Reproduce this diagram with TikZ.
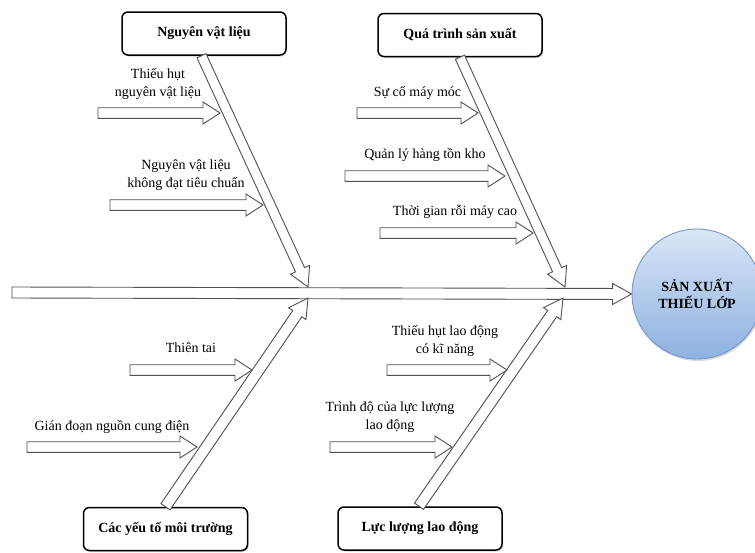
\documentclass[tikz,border=0pt]{standalone}
\usepackage{fontspec}
\setmainfont{Liberation Serif}
\usetikzlibrary{calc,shadows}
\definecolor{circtop}{HTML}{DAE6F6}
\definecolor{circbot}{HTML}{8DB1E0}
\definecolor{circedge}{HTML}{7396CB}
\definecolor{arrline}{HTML}{505050}
\tikzset{
  catbox/.style={draw=black, line width=1.5pt, rounded corners=6pt, fill=white,
    minimum width=164pt, minimum height=43pt, inner sep=0pt,
    font=\fontsize{14}{17}\selectfont\bfseries,
    drop shadow={shadow xshift=1.2pt, shadow yshift=-1.5pt, opacity=0.3}},
  lbl/.style={align=center, inner sep=0pt, font=\fontsize{14}{18}\selectfont},
  barr/.style={draw=arrline, line width=0.9pt, fill=white, line join=miter},
  effect/.style={circle, minimum size=130pt, inner sep=0pt, draw=circedge, line width=0.9pt,
    top color=circtop, bottom color=circbot, align=center,
    font=\fontsize{14}{17}\selectfont\bfseries,
    drop shadow={shadow xshift=1pt, shadow yshift=-2pt, opacity=0.3}}
}
% #1 tail, #2 tip, #3 half shaft width, #4 half head width, #5 head length
\newcommand{\blockarrow}[5]{%
  \draw[barr] ($(#1)!#3!90:(#2)$) -- ($(#2)!#5!(#1)!#3!90:(#2)$)
    -- ($(#2)!#5!(#1)!#4!90:(#2)$) -- (#2)
    -- ($(#2)!#5!(#1)!#4!-90:(#2)$) -- ($(#2)!#5!(#1)!#3!-90:(#2)$)
    -- ($(#1)!#3!-90:(#2)$) -- cycle;}
\begin{document}
\begin{tikzpicture}[x=1pt,y=-1pt]
\useasboundingbox (0,0) rectangle (755,552);

% effect
\node[effect] (eff) at (697,294) {SẢN XUẤT\\THIẾU LỚP};

% category boxes
\node[catbox] (box1) at (204,33.5) {Nguyên vật liệu};
\node[catbox] (box2) at (460,35) {Quá trình sản xuất};
\node[catbox] (box3) at (165.5,529) {Các yếu tố môi trường};
\node[catbox] (box4) at (420,528.5) {Lực lượng lao động};

% spine
\coordinate (sp0) at (12,292.5);
\blockarrow{sp0}{eff.west}{5.5pt}{10.5pt}{19pt}

% bones
\coordinate (b1s) at ([xshift=-2.5pt]box1.south);
\coordinate (b2s) at (box2.south);
\coordinate (b3s) at (box3.north);
\coordinate (b4s) at ([xshift=-1pt]box4.north);
\coordinate (j1) at (308,287);
\coordinate (j2) at (565,287);
\coordinate (j3) at (308,298);
\coordinate (j4) at (563,298);
\blockarrow{b1s}{j1}{5pt}{10.5pt}{19pt}
\blockarrow{b2s}{j2}{5pt}{10.5pt}{19pt}
\blockarrow{b3s}{j3}{5.5pt}{10.5pt}{19pt}
\blockarrow{b4s}{j4}{5.5pt}{10.5pt}{19pt}

% sub-causes
\coordinate (a1s) at (98,113);  \coordinate (a1e) at (220,113);
\coordinate (a2s) at (110,205); \coordinate (a2e) at (263,205);
\coordinate (a3s) at (357,113); \coordinate (a3e) at (478,113);
\coordinate (a4s) at (345,176); \coordinate (a4e) at (505,176);
\coordinate (a5s) at (380,233); \coordinate (a5e) at (533,233);
\coordinate (a6s) at (130,370); \coordinate (a6e) at (252,370);
\coordinate (a7s) at (27,447);  \coordinate (a7e) at (197,447);
\coordinate (a8s) at (387,370); \coordinate (a8e) at (507,370);
\coordinate (a9s) at (330,447); \coordinate (a9e) at (452,447);
\foreach \i in {1,...,9}{\blockarrow{a\i s}{a\i e}{5.3pt}{11pt}{17pt}}

% labels
\node[lbl] (l1) at (158,84) {Thiếu hụt\\nguyên vật liệu};
\node[lbl] (l2) at (186,175.5) {Nguyên vật liệu\\không đạt tiêu chuẩn};
\node[lbl] (l3) at (417.5,93) {Sự cố máy móc};
\node[lbl] (l4) at (425,155) {Quản lý hàng tồn kho};
\node[lbl] (l5) at (455,212) {Thời gian rỗi máy cao};
\node[lbl] (l6) at (191,348) {Thiên tai};
\node[lbl] (l7) at (112,427) {Gián đoạn nguồn cung điện};
\node[lbl] (l8) at (445,341) {Thiếu hụt lao động\\có kĩ năng};
\node[lbl] (l9) at (390,417.5) {Trình độ của lực lượng\\lao động};
\end{tikzpicture}
\end{document}
